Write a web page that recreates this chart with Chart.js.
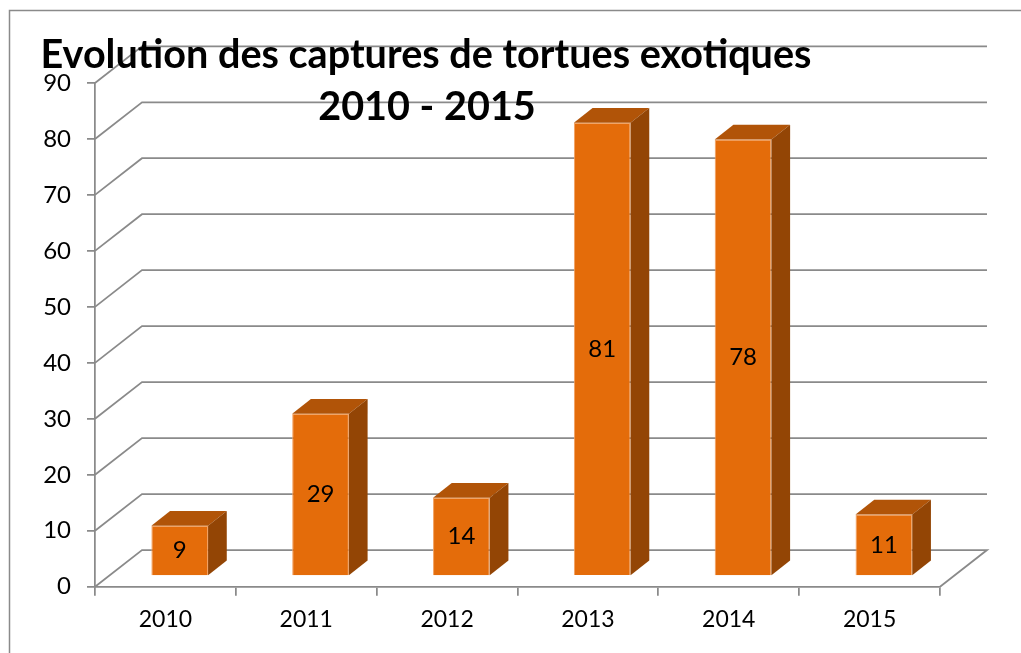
<!DOCTYPE html>
<html>
<head>
<meta charset="utf-8">
<script src="https://cdn.jsdelivr.net/npm/chart.js@4.4.0/dist/chart.umd.min.js"></script>
<style>
  html, body { margin: 0; padding: 0; background: #fff; }
  #wrap { width: 1021px; height: 653px; position: relative; }
</style>
</head>
<body>
<div id="wrap"><canvas id="canvas1"></canvas></div>
<script>
const annees = ["2010", "2011", "2012", "2013", "2014", "2015"];
const captures = [9, 29, 14, 81, 78, 11];
const titre = ["Evolution des captures de tortues exotiques", "2010 - 2015"];

const grisLigne = '#8a8a8a';
// profondeur du mur arriere et position des barres dans cette profondeur
const prof = { dx: 47, dy: 36.7 };
const barAvant = { dx: 14.3, dy: 10.7 };
const barProf = { dx: 18.7, dy: 14.7 };

const decor3D = {
    id: 'decor3D',
    beforeDraw(chart) {
        const ctx = chart.ctx;
        ctx.save();
        ctx.fillStyle = '#fff';
        ctx.fillRect(0, 0, chart.width, chart.height);
        // cadre du graphique
        ctx.strokeStyle = grisLigne;
        ctx.lineWidth = 1.5;
        ctx.strokeRect(9.5, 10.5, chart.width + 20, chart.height + 20);
        ctx.restore();
    },
    beforeDatasetsDraw(chart) {
        const ctx = chart.ctx;
        const area = chart.chartArea;
        const y = chart.scales.y;
        ctx.save();
        ctx.strokeStyle = grisLigne;
        ctx.lineWidth = 1.75;
        y.ticks.forEach(t => {
            const py = y.getPixelForValue(t.value);
            ctx.beginPath();
            ctx.moveTo(area.left, py);
            ctx.lineTo(area.left + prof.dx, py - prof.dy);
            ctx.lineTo(area.right + prof.dx, py - prof.dy);
            if (t.value === 0) ctx.lineTo(area.right, py);
            ctx.stroke();
        });
        ctx.restore();
        ctx.save();
        ctx.translate(barAvant.dx, -barAvant.dy);
    },
    afterDatasetsDraw(chart) {
        const ctx = chart.ctx;
        ctx.restore();
        const meta = chart.getDatasetMeta(0);
        ctx.save();
        meta.data.forEach((bar, i) => {
            const p = bar.getProps(['x', 'y', 'base', 'width'], true);
            const l = p.x - p.width / 2 + barAvant.dx;
            const r = p.x + p.width / 2 + barAvant.dx;
            const t = p.y - barAvant.dy;
            const b = p.base - barAvant.dy;
            // dessus
            ctx.fillStyle = '#b15408';
            ctx.beginPath();
            ctx.moveTo(l, t);
            ctx.lineTo(l + barProf.dx, t - barProf.dy);
            ctx.lineTo(r + barProf.dx, t - barProf.dy);
            ctx.lineTo(r, t);
            ctx.closePath();
            ctx.fill();
            // cote
            ctx.fillStyle = '#934505';
            ctx.beginPath();
            ctx.moveTo(r, t);
            ctx.lineTo(r + barProf.dx, t - barProf.dy);
            ctx.lineTo(r + barProf.dx, b - barProf.dy);
            ctx.lineTo(r, b);
            ctx.closePath();
            ctx.fill();
            // etiquette
            ctx.fillStyle = '#000';
            ctx.font = '24px Lato';
            ctx.textAlign = 'center';
            ctx.textBaseline = 'middle';
            ctx.fillText(String(captures[i]), (l + r) / 2, (t + b) / 2);
        });
        ctx.restore();
    },
    afterDraw(chart) {
        const ctx = chart.ctx;
        ctx.save();
        ctx.fillStyle = '#000';
        ctx.textAlign = 'center';
        ctx.textBaseline = 'alphabetic';
        ctx.font = 'bold 36px Lato';
        const w = ctx.measureText(titre[0]).width;
        const taille = 36 * 772 / w;
        ctx.font = 'bold ' + taille.toFixed(1) + 'px Lato';
        ctx.fillText(titre[0], 426, 68);
        ctx.fillText(titre[1], 427, 120);
        ctx.restore();
    }
};

function GraphiqueTortues() {
    const data = {
        labels: annees,
        datasets: [
            {
                label: 'Captures',
                data: captures,
                backgroundColor: '#e46c0a',
                borderColor: '#f3a05f',
                borderWidth: 1,
                categoryPercentage: 1,
                barPercentage: 0.4026
            }
        ]
    };
    const config = {
        type: 'bar',
        data: data,
        options: {
            responsive: false,
            animation: false,
            layout: { padding: { top: 83, right: 81, left: 0, bottom: 0 } },
            plugins: {
                legend: { display: false },
                title: { display: false },
                tooltip: { enabled: false }
            },
            scales: {
                x: {
                    afterFit: (s) => { s.height = 66.3; },
                    grid: { drawOnChartArea: false, drawTicks: true, tickLength: 9, color: grisLigne, lineWidth: 1.75 },
                    border: { color: grisLigne, width: 1.75 },
                    ticks: { color: '#000', font: { family: 'Lato', size: 23 }, padding: 10 }
                },
                y: {
                    min: 0,
                    max: 90,
                    afterFit: (s) => { s.width = 95; },
                    grid: { drawOnChartArea: false, drawTicks: true, tickLength: 8, color: grisLigne, lineWidth: 1.75 },
                    border: { color: grisLigne, width: 1.75 },
                    ticks: { stepSize: 10, color: '#000', font: { family: 'Lato', size: 24 }, padding: 16 }
                }
            }
        },
        plugins: [decor3D]
    };
    const canvas = document.getElementById('canvas1');
    canvas.width = 1021;
    canvas.height = 653;
    new Chart(canvas, config);
}
GraphiqueTortues();
</script>
</body>
</html>
